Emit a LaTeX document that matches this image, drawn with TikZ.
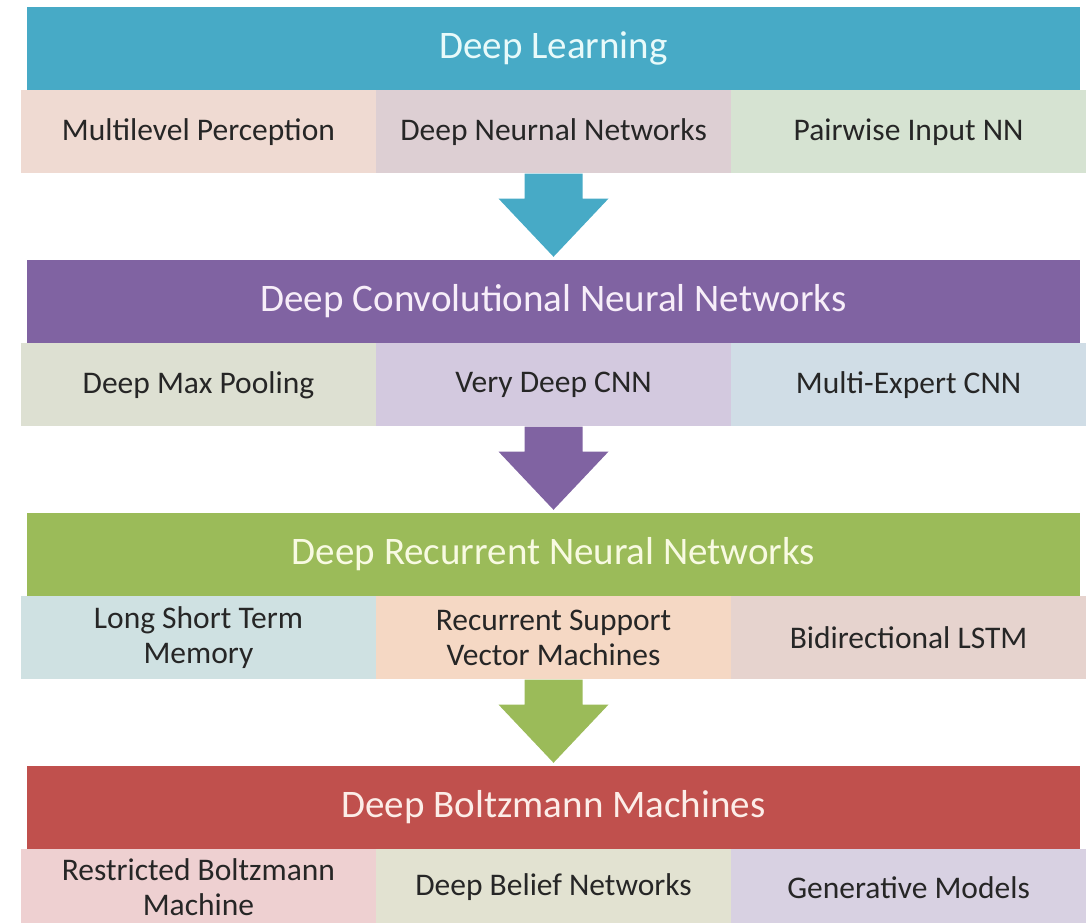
\documentclass[tikz,border=0pt]{standalone}
\usepackage{fontspec}
\setmainfont{Carlito}
\usetikzlibrary{positioning,calc}
\definecolor{aquaH}{HTML}{47AAC6}
\definecolor{purpH}{HTML}{8063A2}
\definecolor{greenH}{HTML}{9BBB59}
\definecolor{redH}{HTML}{C0504D}
\definecolor{aquaT}{HTML}{E8FAFA}
\definecolor{purpT}{HTML}{F7EEF9}
\definecolor{greenT}{HTML}{F8FAE2}
\definecolor{redT}{HTML}{FCEDE8}
\definecolor{cellA}{HTML}{EFDAD2}
\definecolor{cellB}{HTML}{DDCFD3}
\definecolor{cellC}{HTML}{D6E3D2}
\definecolor{cellD}{HTML}{DDE0D2}
\definecolor{cellE}{HTML}{D3C9DF}
\definecolor{cellF}{HTML}{D0DDE6}
\definecolor{cellG}{HTML}{CFE1E2}
\definecolor{cellH}{HTML}{F5D8C4}
\definecolor{cellI}{HTML}{E6D3CE}
\definecolor{cellJ}{HTML}{EED0D1}
\definecolor{cellK}{HTML}{E2E2D1}
\definecolor{cellL}{HTML}{D8D1E2}
\definecolor{inkC}{HTML}{262626}
\begin{document}
\begin{tikzpicture}[x=1pt,y=1pt,
    head/.style={inner sep=0pt, minimum width=1053pt, minimum height=83pt,
        font=\fontsize{39}{44}\selectfont},
    cell/.style={inner sep=0pt, minimum width=354.67pt, minimum height=83pt,
        align=center, text=inkC, font=\fontsize{31.5}{35}\selectfont},
    lastcell/.style={cell, minimum height=76pt}]
    \useasboundingbox (0,0) rectangle (1089,922);
    \node[head, fill=aquaH, text=aquaT] (h1) at (553.5,873.5) {Deep Learning};
    \node[cell, fill=cellB, below=0pt of h1] (b1) {Deep Neurnal Networks};
    \node[cell, fill=cellA, left=0pt of b1] (a1) {Multilevel Perception};
    \node[cell, fill=cellC, right=0pt of b1] (c1) {Pairwise Input NN};
    \node[head, fill=purpH, text=purpT] (h2) at (553.5,620.5) {Deep Convolutional Neural Networks};
    \node[cell, fill=cellE, below=0pt of h2] (b2) {Very Deep CNN};
    \node[cell, fill=cellD, left=0pt of b2] (a2) {Deep Max Pooling};
    \node[cell, fill=cellF, right=0pt of b2] (c2) {Multi-Expert CNN};
    \node[head, fill=greenH, text=greenT] (h3) at (553.5,367.5) {Deep Recurrent Neural Networks};
    \node[cell, fill=cellH, below=0pt of h3] (b3) {Recurrent Support\\Vector Machines};
    \node[cell, fill=cellG, left=0pt of b3] (a3) {Long Short Term\\Memory};
    \node[cell, fill=cellI, right=0pt of b3] (c3) {Bidirectional LSTM};
    \node[head, fill=redH, text=redT] (h4) at (553.5,114.5) {Deep Boltzmann Machines};
    \node[lastcell, fill=cellK, below=0pt of h4] (b4) {Deep Belief Networks};
    \node[lastcell, fill=cellJ, left=0pt of b4] (a4) {Restricted Boltzmann\\Machine};
    \node[lastcell, fill=cellL, right=0pt of b4] (c4) {Generative Models};
    \foreach \from/\to/\col in {b1/h2/aquaH, b2/h3/purpH, b3/h4/greenH}{
        \fill[\col] ($(\from.south)+(-29,0)$) -- ++(0,-25) -- ++(-26,0)
            -- ($(\to.north)+(0,3)$) -- ($(\from.south)+(55,-25)$) -- ++(-26,0)
            -- ($(\from.south)+(29,0)$) -- cycle;
    }
\end{tikzpicture}
\end{document}
